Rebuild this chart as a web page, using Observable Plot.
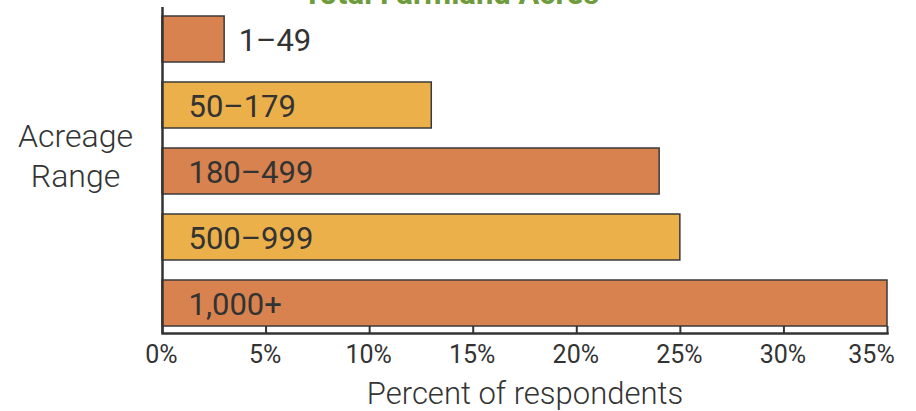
<!DOCTYPE html>
<html>
<head>
<meta charset="utf-8">
<script src="https://cdn.jsdelivr.net/npm/d3@7"></script>
<script src="https://cdn.jsdelivr.net/npm/@observablehq/plot@0.6"></script>
<style>
  html, body { margin: 0; padding: 0; background: #fff; }
  #chart svg { display: block; overflow: hidden; }
</style>
</head>
<body>
<div id="chart"></div>
<script>
const titleText = "Total Farmland Acres";
const categories = ["1–49", "50–179", "180–499", "500–999", "1,000+"];
const percents = [3, 13, 24, 25, 35];
const barColors = ["#d8834f", "#ebb04a", "#d8834f", "#ebb04a", "#d8834f"];
const xTicks = [0, 5, 10, 15, 20, 25, 30, 35];
const yLabel = "Acreage\nRange";
const xLabel = "Percent of respondents";

const data = categories.map((c, i) => ({category: c, value: percents[i], color: barColors[i]}));
const lastTick = xTicks[xTicks.length - 1];

const chart = Plot.plot({
  width: 916,
  height: 411,
  marginLeft: 162,
  marginRight: 29,
  marginTop: 9,
  marginBottom: 78,
  style: {fontFamily: "Roboto, sans-serif", color: "#333", background: "#fff", overflow: "hidden"},
  x: {domain: [0, 35], axis: null},
  y: {domain: categories, paddingInner: 0.303, paddingOuter: 0.106, axis: null},
  color: {type: "identity"},
  marks: [
    Plot.barX(data, {x: "value", y: "category", fill: "color", stroke: "#3a3a3a", strokeWidth: 1.5}),
    Plot.ruleX([0], {stroke: "#333", strokeWidth: 2.5, insetTop: -2}),
    Plot.frame({anchor: "bottom", stroke: "#333", strokeWidth: 2.5}),
    Plot.ruleX(xTicks, {x: d => d, stroke: "#333", strokeWidth: 2, insetTop: 317}),
    Plot.axisX({ticks: xTicks.filter(t => t !== lastTick), tickFormat: d => d + "%", tickSize: 0, tickPadding: 12, dx: -1, fontSize: 25, label: null, fill: "#333"}),
    Plot.axisX({ticks: [lastTick], tickFormat: d => d + "%", tickSize: 0, tickPadding: 12, dx: -16, fontSize: 25, label: null, fill: "#333"}),
    Plot.text(data.filter(d => d.value >= 5), {x: 0, y: "category", text: "category", textAnchor: "start", dx: 26, dy: 2, fontSize: 31, fill: "#333"}),
    Plot.text(data.filter(d => d.value < 5), {x: "value", y: "category", text: "category", textAnchor: "start", dx: 14, dy: 2, fontSize: 31, fill: "#333"}),
    Plot.text([yLabel], {frameAnchor: "left", dx: -87, dy: -17, textAnchor: "middle", fontSize: 32, fontWeight: 300, lineHeight: 1.22, fill: "#333"}),
    Plot.text([xLabel], {frameAnchor: "bottom", dy: 61, lineAnchor: "middle", textAnchor: "middle", fontSize: 31, fontWeight: 300, fill: "#333"}),
    Plot.text([titleText], {frameAnchor: "top", dx: -74, dy: -6, lineAnchor: "bottom", fontSize: 31, fontWeight: "bold", fill: "#6e9b3c"})
  ]
});
document.getElementById("chart").appendChild(chart);
</script>
</body>
</html>
